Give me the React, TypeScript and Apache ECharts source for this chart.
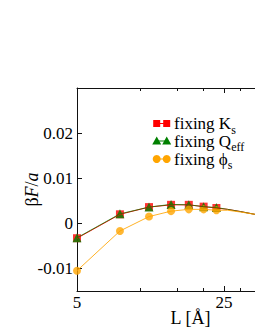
import React, { useEffect, useRef } from "react";
import * as echarts from "echarts";

// Data (L in Å, βF/a)
const L = [5, 8, 11, 14, 17, 20, 23];
const fixKs = [-0.0033, 0.002, 0.0036, 0.0041, 0.0041, 0.0037, 0.0034];
const fixQeff = [-0.0032, 0.0021, 0.0036, 0.0042, 0.0041, 0.0037, 0.0035];
const fixPhis = [-0.0105, -0.0017, 0.0015, 0.0027, 0.0031, 0.0031, 0.0029];
// continuation of the fitted curves beyond the data
const tailL = [26, 30, 35, 40, 50, 60];
const tailKs = [0.0031, 0.0026, 0.002, 0.0015, 0.0008, 0.0003];
const tailQeff = [0.0031, 0.0026, 0.002, 0.0015, 0.0008, 0.0003];
const tailPhis = [0.0029, 0.0025, 0.002, 0.0015, 0.0008, 0.0003];

const xLabelTicks = [5, 25];
const xMajorTicks = [5, 25, 45];
const xMinorTicks = [10, 15, 20, 30, 35, 40, 50, 55, 60];
const yTicks = [-0.01, 0, 0.01, 0.02];
const xMin = 5;
const xMax = 60;
const yMin = -0.015;
const yMax = 0.03;

const FONT = "'Liberation Serif', 'DejaVu Serif', serif";
const RED = "#ff0000";
const GREEN = "#008000";
const ORANGE = "#ffa500";

const lg = (v: number) => Math.log10(v);
const pts = (xs: number[], ys: number[]) => xs.map((x, i) => [lg(x), ys[i]]);

export default function App() {
  const ref = useRef<HTMLDivElement>(null);
  useEffect(() => {
    if (!ref.current) return;
    const chart = echarts.init(ref.current, undefined, { renderer: "svg" });
    const axisLineStyle = { color: "#111", width: 1 };
    const baseX = {
      type: "value",
      min: lg(xMin),
      max: lg(xMax),
      splitLine: { show: false },
    };
    const legendRows = [
      { y: 123.5, color: RED, shape: "square", sub: "s", main: "fixing K" },
      { y: 141, color: GREEN, shape: "triangle", sub: "eff", main: "fixing Q" },
      { y: 159, color: ORANGE, shape: "circle", sub: "s", main: "fixing \u03d5" },
    ];
    const marker = (shape: string, cx: number, cy: number, color: string) => {
      if (shape === "square")
        return { type: "rect", shape: { x: cx - 3.5, y: cy - 3.5, width: 7, height: 7 }, style: { fill: color } };
      if (shape === "triangle")
        return {
          type: "polygon",
          shape: { points: [[cx, cy - 4.5], [cx + 4.5, cy + 3.5], [cx - 4.5, cy + 3.5]] },
          style: { fill: color },
        };
      return { type: "circle", shape: { cx, cy, r: 4 }, style: { fill: color } };
    };
    const graphics: any[] = [];
    legendRows.forEach((r) => {
      graphics.push({
        type: "line",
        shape: { x1: 156.7, y1: r.y, x2: 166.7, y2: r.y },
        style: { stroke: r.color, lineWidth: 1 },
      });
      graphics.push(marker(r.shape, 156.7, r.y, r.color));
      graphics.push(marker(r.shape, 166.7, r.y, r.color));
      graphics.push({
        type: "text",
        x: 174,
        y: r.y,
        style: {
          text: `{m|${r.main}}{s|${r.sub}}`,
          verticalAlign: "middle",
          align: "left",
          rich: {
            m: { fontFamily: FONT, fontSize: 17, lineHeight: 24, fill: "#000" },
            s: { fontFamily: FONT, fontSize: 12, lineHeight: 12, verticalAlign: "bottom", fill: "#000" },
          },
        },
      });
    });

    chart.setOption({
      animation: false,
      grid: { left: 77, top: 88, right: 0, bottom: 39, containLabel: false, outerBoundsMode: "none" },
      xAxis: [
        {
          ...baseX,
          position: "bottom",
          axisLine: { show: true, onZero: false, lineStyle: axisLineStyle },
          axisTick: { show: true, inside: true, length: 5, lineStyle: axisLineStyle, customValues: xMajorTicks.map(lg) },
          axisLabel: {
            show: true,
            customValues: xLabelTicks.map(lg),
            formatter: (v: number) => String(Math.round(Math.pow(10, v))),
            fontFamily: FONT,
            fontSize: 17,
            color: "#000",
            margin: 3,
          },
          name: "L [Å]",
          nameLocation: "middle",
          nameGap: 18,
          nameMoveOverlap: false,
          nameTextStyle: { fontFamily: FONT, fontSize: 18, color: "#000" },
        },
        {
          ...baseX,
          position: "bottom",
          axisLine: { show: false, onZero: false },
          axisTick: { show: true, inside: true, length: 3, lineStyle: axisLineStyle, customValues: xMinorTicks.map(lg) },
          axisLabel: { show: false },
        },
        {
          ...baseX,
          position: "top",
          axisLine: { show: true, onZero: false, lineStyle: axisLineStyle },
          axisTick: { show: true, inside: true, length: 5, lineStyle: axisLineStyle, customValues: xMajorTicks.map(lg) },
          axisLabel: { show: false },
        },
        {
          ...baseX,
          position: "top",
          axisLine: { show: false, onZero: false },
          axisTick: { show: true, inside: true, length: 3, lineStyle: axisLineStyle, customValues: xMinorTicks.map(lg) },
          axisLabel: { show: false },
        },
      ],
      yAxis: {
        type: "value",
        min: yMin,
        max: yMax,
        splitLine: { show: false },
        axisLine: { show: true, onZero: false, lineStyle: axisLineStyle },
        axisTick: { show: true, inside: true, length: 5, lineStyle: axisLineStyle, customValues: yTicks },
        axisLabel: {
          customValues: yTicks,
          formatter: (v: number) => (v === 0 ? "0" : v.toFixed(2)),
          fontFamily: FONT,
          fontSize: 17,
          color: "#000",
          margin: 4,
        },
        name: "β{i|F}/{i|a}",
        nameLocation: "middle",
        nameRotate: 90,
        nameGap: 36,
        nameMoveOverlap: false,
        nameTextStyle: {
          fontFamily: FONT,
          fontSize: 18,
          color: "#000",
          rich: { i: { fontFamily: FONT, fontSize: 18, fontStyle: "italic", color: "#000" } },
        },
      },
      series: [
        {
          type: "line",
          data: pts(L.concat(tailL), fixKs.concat(tailKs)),
          showSymbol: false,
          symbol: "none",
          lineStyle: { color: RED, width: 1 },
          clip: true,
        },
        {
          type: "line",
          data: pts(L.concat(tailL), fixQeff.concat(tailQeff)),
          showSymbol: false,
          symbol: "none",
          lineStyle: { color: GREEN, width: 1, opacity: 0.7 },
          clip: true,
        },
        {
          type: "line",
          data: pts(L.concat(tailL), fixPhis.concat(tailPhis)),
          showSymbol: false,
          symbol: "none",
          lineStyle: { color: ORANGE, width: 1, opacity: 0.85 },
          clip: true,
        },
        { type: "scatter", data: pts(L, fixKs), symbol: "rect", symbolSize: 8, itemStyle: { color: RED }, clip: false },
        { type: "scatter", data: pts(L, fixQeff), symbol: "triangle", symbolSize: 9, itemStyle: { color: GREEN }, clip: false },
        { type: "scatter", data: pts(L, fixPhis), symbol: "circle", symbolSize: 8, itemStyle: { color: ORANGE }, clip: false },
      ],
      graphic: graphics,
    });
    return () => chart.dispose();
  }, []);
  return (
    <div
      style={{ position: "fixed", left: 0, top: 0, width: 255, height: 330, overflow: "hidden", background: "#fff" }}
    >
      <div ref={ref} style={{ width: 304, height: 330 }} />
    </div>
  );
}
